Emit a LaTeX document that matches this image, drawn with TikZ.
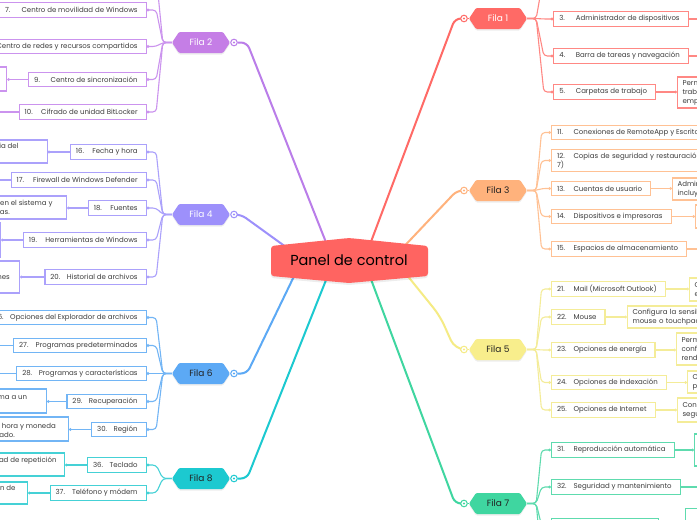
\documentclass[tikz,border=0pt]{standalone}
\usepackage{fontspec}
\setmainfont{Poppins}
\usetikzlibrary{arrows.meta,backgrounds,calc}
\definecolor{txt}{HTML}{3C3C3C}
\definecolor{dark}{HTML}{222222}
\definecolor{mred}{HTML}{FF6461}
\definecolor{fc1}{HTML}{FF6A66}\definecolor{lc1}{HTML}{FF6A66}\definecolor{bc1}{HTML}{FF8884}
\definecolor{fc2}{HTML}{C57EE6}\definecolor{lc2}{HTML}{BA7DE9}\definecolor{bc2}{HTML}{CB93EE}
\definecolor{fc3}{HTML}{FFB27C}\definecolor{lc3}{HTML}{FFB27C}\definecolor{bc3}{HTML}{FFC194}
\definecolor{fc4}{HTML}{9D90FB}\definecolor{lc4}{HTML}{9D90FB}\definecolor{bc4}{HTML}{ABA1FB}
\definecolor{fc5}{HTML}{F8EE8C}\definecolor{lc5}{HTML}{F5EB84}\definecolor{bc5}{HTML}{F4EC98}
\definecolor{fc6}{HTML}{5CA9F5}\definecolor{lc6}{HTML}{5CA9F5}\definecolor{bc6}{HTML}{72B5F5}
\definecolor{fc7}{HTML}{3FD6A0}\definecolor{lc7}{HTML}{3FD6A0}\definecolor{bc7}{HTML}{5EDBAE}
\definecolor{fc8}{HTML}{1CC9D0}\definecolor{lc8}{HTML}{1CC9D0}\definecolor{bc8}{HTML}{45D1D6}
\newcommand\fs{\fontsize{7pt}{9pt}\selectfont}
\newcommand\lbl[2]{\hspace*{5.5pt}\makebox[16.5pt][l]{#1}#2\hspace*{8.5pt}}
\newcommand\filanode[6]{%
  \fill[black, opacity=0.07, rounded corners=1.2pt] (#2-29,#3+1.5) -- (#2-22,#3-9) -- (#2+22,#3-9) -- (#2+29,#3+1.5) -- (#2+22,#3+12) -- (#2-22,#3+12) -- cycle;
  \fill[#4, rounded corners=1.2pt] (#2-29,#3) -- (#2-22,#3-10.5) -- (#2+22,#3-10.5) -- (#2+29,#3) -- (#2+22,#3+10.5) -- (#2-22,#3+10.5) -- cycle;
  \node[filat, text=#5] (#1) at (#2,#3) {#6};}
\newcommand\lbr[3]{\draw[#1] (#2.west) -- ++(-9,0) -- ($(#3)+(9.5,0)$) -- (#3);}
\newcommand\rbr[3]{\draw[#1] (#2.east) -- ++(9,0) -- ($(#3)+(-9.5,0)$) -- (#3);}
\tikzset{
  filat/.style={minimum width=58pt, minimum height=21pt, inner sep=0pt, font=\fontsize{9}{10}\selectfont},
  tog/.style={circle, draw=#1, fill=white, line width=1pt, minimum size=6.6pt, inner sep=0pt,
    path picture={\fill[#1] (path picture bounding box.center) circle (1.1pt);}},
  cbox/.style={draw=#1, fill=white, line width=1.1pt, minimum height=14.3pt, inner xsep=0pt, inner ysep=0pt, font=\fs, text=txt},
  dbox/.style={draw=#1, fill=white, line width=1.1pt, inner xsep=5pt, inner ysep=2pt, align=left, font=\fs, text=txt, text width=50pt},
  ebox/.style={draw=#1, fill=white, line width=1.1pt, inner sep=0pt, minimum width=40pt},
  frag/.style={font=\fs, text=txt, inner sep=0pt, anchor=base east},
  main/.style={draw=#1, line width=2pt, rounded corners=6pt},
  br/.style={draw=#1, line width=1.1pt, rounded corners=3.5pt, -{Circle[length=2.6pt,width=2.6pt]}},
  brn/.style={draw=#1, line width=1.1pt, rounded corners=3.5pt},
}
\begin{document}
\begin{tikzpicture}[x=1pt,y=-1pt]
\useasboundingbox (0,0) rectangle (697,520);
\clip (0,0) rectangle (697,520);

% central node
\fill[black, opacity=0.07, rounded corners=3pt] (271,248) -- (349,240) -- (428,248) -- (428,278) -- (349,285) -- (271,278) -- cycle;
\fill[mred, rounded corners=3pt] (271,246) -- (349,238) -- (428,246) -- (428,276) -- (349,283) -- (271,276) -- cycle;
\node[font=\fontsize{14.5}{16}\selectfont, text=black, inner sep=0pt] (pc) at (349,260.5) {Panel de control};

% fila nodes
\filanode{fila1}{498}{18.5}{fc1}{white}{Fila 1}
\filanode{fila2}{201}{42.5}{fc2}{white}{Fila 2}
\filanode{fila3}{498}{190.5}{fc3}{dark}{Fila 3}
\filanode{fila4}{201}{214.5}{fc4}{white}{Fila 4}
\filanode{fila5}{498}{349.5}{fc5}{dark}{Fila 5}
\filanode{fila6}{201}{373.5}{fc6}{dark}{Fila 6}
\filanode{fila7}{498}{503.5}{fc7}{dark}{Fila 7}
\filanode{fila8}{201}{478.5}{fc8}{dark}{Fila 8}

\node[tog=lc1] (tog1) at (464,18.5) {};
\node[tog=lc2] (tog2) at (234,42.5) {};
\node[tog=lc3] (tog3) at (464,190.5) {};
\node[tog=lc4] (tog4) at (234,214.5) {};
\node[tog=lc5] (tog5) at (464,349.5) {};
\node[tog=lc6] (tog6) at (234,373.5) {};
\node[tog=lc7] (tog7) at (464,503.5) {};
\node[tog=lc8] (tog8) at (234,478.5) {};

% ---- Fila 2 children (left)
\node[cbox=bc2, anchor=east] (c7) at (146.7,10) {\lbl{7.}{Centro de movilidad de Windows}};
\node[cbox=bc2, anchor=east] (c8) at (146.7,46.5) {\hspace*{30pt}Centro de redes y recursos compartidos\hspace*{8.5pt}};
\node[cbox=bc2, anchor=east] (c9) at (146.7,79.5) {\lbl{9.}{Centro de sincronización}};
\node[cbox=bc2, anchor=east] (c10) at (146.7,112) {\lbl{10.}{Cifrado de unidad BitLocker}};
\coordinate (c6) at (146.7,-25);
\node[ebox=bc2, anchor=east, minimum height=24pt] (d9) at (7.3,79) {};
\coordinate (d7) at (-10,10);
\coordinate (d10) at (-10,112);

% ---- Fila 4 children
\node[cbox=bc4, anchor=east] (c16) at (146.7,152) {\lbl{16.}{Fecha y hora}};
\node[cbox=bc4, anchor=east] (c17) at (146.7,180) {\lbl{17.}{Firewall de Windows Defender}};
\node[cbox=bc4, anchor=east] (c18) at (146.7,208) {\lbl{18.}{Fuentes}};
\node[cbox=bc4, anchor=east] (c19) at (146.7,240) {\lbl{19.}{Herramientas de Windows}};
\node[cbox=bc4, anchor=east] (c20) at (146.7,277) {\lbl{20.}{Historial de archivos}};
\node[ebox=bc4, anchor=east, minimum height=23pt, minimum width=70pt] (d16) at (47.7,151.5) {};
\node[ebox=bc4, anchor=east, minimum height=23pt, minimum width=80pt] (d18) at (67,207.5) {};
\node[ebox=bc4, anchor=east, minimum height=34pt] (d19) at (1,240) {};
\node[ebox=bc4, anchor=east, minimum height=32pt] (d20) at (20,277) {};
\coordinate (d17) at (-10,180);
\node[frag] (g16) at (18.7,148.7) {ia del};
\node[frag] (g18a) at (52.7,205.3) {en el sistema y};
\node[frag] (g18b) at (10,214.3) {as.};
\node[frag] (g20) at (10,279.3) {nes};

% ---- Fila 6 children
\node[cbox=bc6, anchor=east] (c26) at (146.7,317.5) {\lbl{\phantom{2}6.}{Opciones del Explorador de archivos}};
\node[cbox=bc6, anchor=east] (c27) at (146.7,345.5) {\lbl{27.}{Programas predeterminados}};
\node[cbox=bc6, anchor=east] (c28) at (146.7,373.5) {\lbl{28.}{Programas y características}};
\node[cbox=bc6, anchor=east] (c29) at (146.7,401.5) {\lbl{29.}{Recuperación}};
\node[cbox=bc6, anchor=east] (c30) at (146.7,429.5) {\lbl{30.}{Región}};
\node[ebox=bc6, anchor=east, minimum height=24pt, minimum width=70pt] (d29) at (47,401) {};
\node[ebox=bc6, anchor=east, minimum height=24pt, minimum width=90pt] (d30) at (69,429) {};
\coordinate (d27) at (-10,345.5);
\coordinate (d28) at (-10,373.5);
\node[frag] (g29) at (27.3,399.7) {ma a un};
\node[frag] (g30a) at (56,428) {, hora y moneda};
\node[frag] (g30b) at (15,437) {ado.};

% ---- Fila 8 children
\node[cbox=bc8, anchor=east] (c36) at (146.7,465) {\lbl{36.}{Teclado}};
\node[cbox=bc8, anchor=east] (c37) at (146.7,493) {\lbl{37.}{Teléfono y módem}};
\node[ebox=bc8, anchor=east, minimum height=23pt, minimum width=90pt] (d36) at (65,464.5) {};
\node[ebox=bc8, anchor=east, minimum height=22pt, minimum width=60pt] (d37) at (28,493) {};
\node[frag] (g36) at (56.7,462.7) {lad de repetición};
\node[frag] (g37) at (15.7,490.3) {n de};

% ---- Fila 1 children (right)
\coordinate (c2) at (553.3,-25);
\node[cbox=bc1, anchor=west] (c3) at (553.3,19) {\lbl{3.}{Administrador de dispositivos}};
\node[cbox=bc1, anchor=west] (c4) at (553.3,56) {\lbl{4.}{Barra de tareas y navegación}};
\node[cbox=bc1, anchor=west] (c5) at (553.3,92) {\lbl{5.}{Carpetas de trabajo}};
\node[dbox=bc1, anchor=west, minimum height=31pt] (d5) at (677,92.5) {Perm\\trab\\emp};
\coordinate (d3) at (710,19);
\coordinate (d4) at (710,56);

% ---- Fila 3 children
\node[cbox=bc3, anchor=west] (c11) at (551,132.5) {\lbl{11.}{Conexiones de RemoteApp y Escrito}\hspace*{30pt}};
\node[cbox=bc3, anchor=west, align=left, inner xsep=5.5pt, inner ysep=3pt, text width=190pt] (c12) at (551,160.5) {\makebox[16.5pt][l]{12.}Copias de seguridad y restauración\\7)};
\node[cbox=bc3, anchor=west] (c13) at (551,188.5) {\lbl{13.}{Cuentas de usuario}};
\node[cbox=bc3, anchor=west] (c14) at (551,216.5) {\lbl{14.}{Dispositivos e impresoras}};
\node[cbox=bc3, anchor=west] (c15) at (551,249) {\lbl{15.}{Espacios de almacenamiento}};
\node[dbox=bc3, anchor=west, minimum height=22pt] (d13) at (672,189) {Admin\\incluy};
\node[ebox=bc3, anchor=west, minimum height=23pt] (d14) at (695,216.5) {};
\coordinate (d15) at (710,249);

% ---- Fila 5 children
\node[cbox=bc5, anchor=west] (c21) at (551,289) {\lbl{21.}{Mail (Microsoft Outlook)}};
\node[cbox=bc5, anchor=west] (c22) at (551,317) {\lbl{22.}{Mouse}};
\node[cbox=bc5, anchor=west] (c23) at (551,350) {\lbl{23.}{Opciones de energía}};
\node[cbox=bc5, anchor=west] (c24) at (551,382.5) {\lbl{24.}{Opciones de indexación}};
\node[cbox=bc5, anchor=west] (c25) at (551,410) {\lbl{25.}{Opciones de Internet}};
\node[dbox=bc5, anchor=west, minimum height=23pt] (d21) at (689,289.5) {C\\e};
\node[dbox=bc5, anchor=west, minimum height=22pt, text width=80pt] (d22) at (627,317) {Configura la sensib\\mouse o touchpad.};
\node[dbox=bc5, anchor=west, minimum height=32pt] (d23) at (676,349) {Perm\\confi\\rend};
\node[dbox=bc5, anchor=west, minimum height=22pt] (d24) at (687,382) {O\\p};
\node[dbox=bc5, anchor=west, minimum height=24pt] (d25) at (677,410) {Con\\segu};

% ---- Fila 7 children
\node[cbox=bc7, anchor=west] (c31) at (551,450) {\lbl{31.}{Reproducción automática}};
\node[cbox=bc7, anchor=west] (c32) at (551,487) {\lbl{32.}{Seguridad y mantenimiento}};
\node[cbox=bc7, anchor=west, minimum width=107pt] (c33) at (551,525.3) {};
\coordinate (c34) at (551,560);
\node[ebox=bc7, anchor=west, minimum height=32pt] (d31) at (694,450) {};
\node[dbox=bc7, anchor=north west, minimum height=30pt] (d33) at (685,508) {O};
\coordinate (d32) at (710,487);

\begin{scope}[on background layer]
\fill[white] (0,0) rectangle (697,520);
% main connectors
\draw[main=lc1] (pc.center) -- (366,255) -- (455,18.5) -- (tog1.west);
\draw[main=lc2] (pc.center) -- (331,255) -- (247,42.5) -- (tog2.east);
\draw[main=lc3] (pc.center) -- (396,255) -- (457,190.5) -- (tog3.west);
\draw[main=lc4] (pc.center) -- (297,255) -- (241,214.5) -- (tog4.east);
\draw[main=lc5, rounded corners=10pt] (pc.center) -- (398,264) -- (440,316) -- (455,349.5) -- (tog5.west);
\draw[main=lc6] (pc.center) -- (298,268) -- (247,373.5) -- (tog6.east);
\draw[main=lc7] (pc.center) -- (367.5,270) -- (455,503.5) -- (tog7.west);
\draw[main=lc8] (pc.center) -- (330,270) -- (247,478.5) -- (tog8.east);
\foreach \i/\s in {1/west,3/west,5/west,7/west,2/east,4/east,6/east,8/east}
  \draw[lc\i, line width=1.5pt] (fila\i.\s) -- (tog\i);

% left branches
\lbr{brn=bc2}{fila2}{c6}
\lbr{br=bc2}{fila2}{c7.east}
\lbr{br=bc2}{fila2}{c8.east}
\lbr{br=bc2}{fila2}{c9.east}
\lbr{br=bc2}{fila2}{c10.east}
\draw[brn=bc2] (c7.west) -- (d7);
\draw[br=bc2] (c9.west) -- (c9.west -| d9.east);
\draw[brn=bc2] (c10.west) -- (d10);

\lbr{br=bc4}{fila4}{c16.east}
\lbr{br=bc4}{fila4}{c17.east}
\lbr{br=bc4}{fila4}{c18.east}
\lbr{br=bc4}{fila4}{c19.east}
\lbr{br=bc4}{fila4}{c20.east}
\draw[br=bc4] (c16.west) -- (c16.west -| d16.east);
\draw[brn=bc4] (c17.west) -- (d17);
\draw[br=bc4] (c18.west) -- (c18.west -| d18.east);
\draw[br=bc4] (c19.west) -- (c19.west -| d19.east);
\draw[br=bc4] (c20.west) -- (c20.west -| d20.east);

\lbr{br=bc6}{fila6}{c26.east}
\lbr{br=bc6}{fila6}{c27.east}
\lbr{br=bc6}{fila6}{c28.east}
\lbr{br=bc6}{fila6}{c29.east}
\lbr{br=bc6}{fila6}{c30.east}
\draw[brn=bc6] (c27.west) -- (d27);
\draw[brn=bc6] (c28.west) -- (d28);
\draw[br=bc6] (c29.west) -- (c29.west -| d29.east);
\draw[br=bc6] (c30.west) -- (c30.west -| d30.east);

\lbr{br=bc8}{fila8}{c36.east}
\lbr{br=bc8}{fila8}{c37.east}
\draw[br=bc8] (c36.west) -- (c36.west -| d36.east);
\draw[br=bc8] (c37.west) -- (c37.west -| d37.east);

% right branches
\rbr{brn=bc1}{fila1}{c2}
\rbr{br=bc1}{fila1}{c3.west}
\rbr{br=bc1}{fila1}{c4.west}
\rbr{br=bc1}{fila1}{c5.west}
\draw[brn=bc1] (c3.east) -- (d3);
\draw[brn=bc1] (c4.east) -- (d4);
\draw[br=bc1] (c5.east) -- (c5.east -| d5.west);

\rbr{br=bc3}{fila3}{c11.west}
\rbr{br=bc3}{fila3}{c12.west}
\rbr{br=bc3}{fila3}{c13.west}
\rbr{br=bc3}{fila3}{c14.west}
\rbr{br=bc3}{fila3}{c15.west}
\draw[br=bc3] (c13.east) -- (c13.east -| d13.west);
\draw[br=bc3] (c14.east) -- (c14.east -| d14.west);
\draw[brn=bc3] (c15.east) -- (d15);

\rbr{br=bc5}{fila5}{c21.west}
\rbr{br=bc5}{fila5}{c22.west}
\rbr{br=bc5}{fila5}{c23.west}
\rbr{br=bc5}{fila5}{c24.west}
\rbr{br=bc5}{fila5}{c25.west}
\draw[br=bc5] (c21.east) -- (c21.east -| d21.west);
\draw[br=bc5] (c22.east) -- (c22.east -| d22.west);
\draw[br=bc5] (c23.east) -- (c23.east -| d23.west);
\draw[br=bc5] (c24.east) -- (c24.east -| d24.west);
\draw[br=bc5] (c25.east) -- (c25.east -| d25.west);

\rbr{br=bc7}{fila7}{c31.west}
\rbr{br=bc7}{fila7}{c32.west}
\rbr{br=bc7}{fila7}{c33.west}
\rbr{brn=bc7}{fila7}{c34}
\draw[br=bc7] (c31.east) -- (c31.east -| d31.west);
\draw[brn=bc7] (c32.east) -- (d32);
\draw[br=bc7] (c33.east) -- (c33.east -| d33.west);
\end{scope}
\end{tikzpicture}
\end{document}
